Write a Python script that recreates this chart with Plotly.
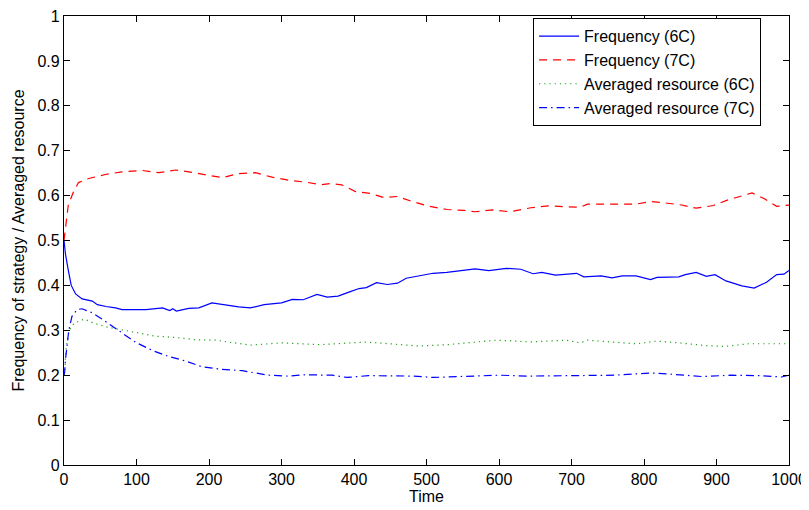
import plotly.graph_objects as go

# ---- data ----
t_freq6 = [0, 2, 6, 10, 16, 25, 39, 46, 58, 71, 80, 94, 113, 136, 146, 150, 155, 172, 186,
           204, 223, 241, 257, 276, 300, 315, 330, 349, 363, 378, 393, 407, 417, 431, 446,
           460, 472, 489, 509, 528, 547, 567, 586, 610, 630, 647, 659, 678, 707, 717, 741,
           756, 770, 789, 809, 818, 848, 857, 872, 886, 898, 913, 935, 952, 969, 983, 993, 1000]
freq6 = [0.5, 0.47, 0.433, 0.4, 0.381, 0.370, 0.365, 0.357, 0.353, 0.350, 0.346, 0.346,
         0.346, 0.350, 0.344, 0.348, 0.343, 0.349, 0.350, 0.361, 0.356, 0.352, 0.350, 0.357,
         0.361, 0.369, 0.368, 0.380, 0.374, 0.376, 0.385, 0.393, 0.395, 0.406, 0.402, 0.405,
         0.416, 0.421, 0.427, 0.429, 0.433, 0.437, 0.433, 0.438, 0.436, 0.426, 0.429, 0.423,
         0.427, 0.419, 0.421, 0.417, 0.421, 0.421, 0.413, 0.418, 0.419, 0.424, 0.429, 0.420,
         0.424, 0.410, 0.399, 0.394, 0.407, 0.424, 0.425, 0.433]

t_freq7 = [0, 3, 6, 13.5, 20, 34, 57, 80, 108, 131, 154, 172, 200, 218, 241, 264, 287, 315,
           334, 354, 368, 383, 402, 422, 441, 460, 480, 504, 528, 552, 567, 591, 615, 644,
           668, 693, 712, 722, 751, 770, 789, 809, 833, 852, 872, 896, 915, 935, 949, 966,
           983, 1000]
freq7 = [0.5, 0.542, 0.58, 0.61, 0.629, 0.638, 0.647, 0.653, 0.656, 0.651, 0.657, 0.653,
         0.645, 0.64, 0.649, 0.651, 0.641, 0.633, 0.630, 0.624, 0.627, 0.624, 0.609, 0.605,
         0.596, 0.598, 0.587, 0.576, 0.569, 0.567, 0.564, 0.568, 0.564, 0.573, 0.577, 0.576,
         0.574, 0.581, 0.580, 0.581, 0.581, 0.587, 0.583, 0.579, 0.572, 0.578, 0.590, 0.600,
         0.606, 0.593, 0.576, 0.579]

t_res6 = [0, 1, 2.6, 7, 14, 28, 41, 60, 80, 108, 126, 154, 181, 209, 236, 257, 300, 354,
          417, 489, 528, 567, 596, 644, 693, 712, 722, 789, 818, 848, 886, 910, 944, 1000]
res6 = [0.2, 0.21, 0.257, 0.3, 0.316, 0.325, 0.316, 0.307, 0.301, 0.292, 0.287, 0.284,
        0.279, 0.278, 0.272, 0.267, 0.272, 0.268, 0.274, 0.265, 0.268, 0.274, 0.278, 0.274,
        0.278, 0.272, 0.278, 0.270, 0.276, 0.272, 0.266, 0.264, 0.270, 0.270]

t_res7 = [0, 1, 2, 6.6, 11, 18, 25, 39, 57, 80, 99, 122, 144, 167, 190, 218, 246, 257, 282,
          310, 330, 370, 390, 420, 480, 510, 560, 600, 640, 700, 760, 790, 810, 840, 880,
          920, 960, 990, 1000]
res7 = [0.2, 0.208, 0.234, 0.3, 0.331, 0.346, 0.348, 0.339, 0.32, 0.294, 0.273, 0.255,
        0.242, 0.232, 0.219, 0.213, 0.21, 0.207, 0.2, 0.198, 0.201, 0.2, 0.195, 0.199, 0.198,
        0.195, 0.197, 0.2, 0.198, 0.199, 0.2, 0.203, 0.205, 0.202, 0.197, 0.2, 0.199, 0.196, 0.2]

x_ticks = [0, 100, 200, 300, 400, 500, 600, 700, 800, 900, 1000]
y_ticks = [0, 0.1, 0.2, 0.3, 0.4, 0.5, 0.6, 0.7, 0.8, 0.9, 1]
y_ticktext = ["0", "0.1", "0.2", "0.3", "0.4", "0.5", "0.6", "0.7", "0.8", "0.9", "1"]

names = ["Frequency (6C)", "Frequency (7C)", "Averaged resource (6C)", "Averaged resource (7C)"]

FONT = "Liberation Sans, Arial, Helvetica, sans-serif"

fig = go.Figure()
fig.add_trace(go.Scatter(x=t_freq6, y=freq6, mode="lines", name=names[0],
                         line=dict(color="#0000ff", width=1.2)))
fig.add_trace(go.Scatter(x=t_freq7, y=freq7, mode="lines", name=names[1],
                         line=dict(color="#ff0000", width=1.2, dash="8px,6px")))
fig.add_trace(go.Scatter(x=t_res6, y=res6, mode="lines", name=names[2],
                         line=dict(color="#20a020", width=1.2, dash="1.2px,4px")))
fig.add_trace(go.Scatter(x=t_res7, y=res7, mode="lines", name=names[3],
                         line=dict(color="#0000ff", width=1.2, dash="8px,4px,1.5px,4px")))

axis_common = dict(showline=True, linecolor="black", linewidth=1.3, mirror="ticks",
                   ticks="inside", ticklen=6, tickwidth=1, tickcolor="black",
                   showgrid=False, zeroline=False, automargin=False,
                   ticklabeloverflow="allow",
                   tickfont=dict(family=FONT, size=16, color="black"))

# the page body has an 8px margin, so the figure is 8px smaller and margins shifted
fig.update_layout(
    width=801, height=502,
    margin=dict(l=56, r=20, t=8, b=45, autoexpand=False),
    paper_bgcolor="white", plot_bgcolor="white",
    font=dict(family=FONT, size=16, color="black"),
    xaxis=dict(range=[0, 1000], tickvals=x_ticks,
               title=dict(text="Time", font=dict(family=FONT, size=16), standoff=2),
               **axis_common),
    yaxis=dict(range=[0, 1], tickvals=y_ticks, ticktext=y_ticktext,
               title=dict(text="Frequency of strategy / Averaged resource",
                          font=dict(family=FONT, size=16), standoff=8),
               **axis_common),
    legend=dict(x=0.647, y=0.995, xanchor="left", yanchor="top",
                bordercolor="black", borderwidth=1, bgcolor="white",
                font=dict(family=FONT, size=16, color="black"),
                itemwidth=40, tracegroupgap=0),
    showlegend=True,
)

fig.write_html("out.html")
